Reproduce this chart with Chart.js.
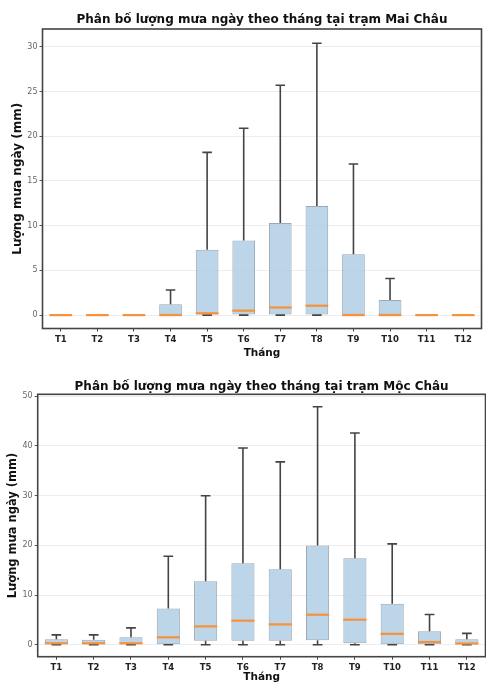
<!DOCTYPE html>
<html>
<head>
<meta charset="utf-8">
<script src="https://cdn.jsdelivr.net/npm/chart.js@4"></script>
<style>
  body { margin: 0; background: #fff; }
  .wrap { position: absolute; left: 0; width: 486px; }
  #w1 { top: 0; height: 362px; }
  #w2 { top: 362px; height: 322px; }
</style>
</head>
<body>
<div class="wrap" id="w1"><canvas id="maiChart"></canvas></div>
<div class="wrap" id="w2"><canvas id="mocChart"></canvas></div>
<script>
// months on the x axis
let months = ['T1', 'T2', 'T3', 'T4', 'T5', 'T6', 'T7', 'T8', 'T9', 'T10', 'T11', 'T12']

// Mai Chau box stats (mm)
let maiMin = [0, 0, 0, 0, 0, 0, 0, 0, 0, 0, 0, 0]
let maiQ1 = [0, 0, 0, 0, 0, 0, 0, 0, 0, 0, 0, 0]
let maiMed = [0, 0, 0, 0, 0.2, 0.5, 0.85, 1.05, 0, 0, 0, 0]
let maiQ3 = [0, 0, 0, 1.2, 7.3, 8.35, 10.3, 12.2, 6.8, 1.7, 0, 0]
let maiMax = [0, 0, 0, 2.8, 18.2, 20.9, 25.7, 30.4, 16.9, 4.1, 0, 0]
let maiTicks = [0, 5, 10, 15, 20, 25, 30]

// Moc Chau box stats (mm)
let mocMin = [0, 0, 0, 0, 0, 0, 0, 0, 0, 0, 0, 0]
let mocQ1 = [0, 0, 0, 0, 0.8, 0.8, 0.8, 0.9, 0.3, 0, 0.1, 0]
let mocMed = [0.3, 0.3, 0.3, 1.5, 3.7, 4.85, 4.1, 6.05, 5.05, 2.2, 0.55, 0.25]
let mocQ3 = [1.1, 1.0, 1.5, 7.3, 12.8, 16.4, 15.2, 20.0, 17.4, 8.25, 2.7, 1.1]
let mocMax = [2.0, 2.0, 3.4, 17.8, 30.0, 39.6, 36.8, 47.9, 42.6, 20.3, 6.1, 2.3]
let mocTicks = [0, 10, 20, 30, 40, 50]

Chart.defaults.font.family = '"DejaVu Sans", sans-serif'

// whiskers, caps, medians and the axes frame, drawn through the chart scales
const boxExtras = {
  id: 'boxExtras',
  afterDatasetsDraw(chart) {
    const ctx = chart.ctx
    const ds = chart.data.datasets[0]
    const meta = chart.getDatasetMeta(0)
    const y = chart.scales.y
    ctx.save()
    meta.data.forEach((bar, i) => {
      const x = bar.x
      const half = bar.width / 2
      const cap = bar.width * 0.21
      const yMin = y.getPixelForValue(ds.stats.min[i])
      const yQ1 = y.getPixelForValue(ds.stats.q1[i])
      const yQ3 = y.getPixelForValue(ds.stats.q3[i])
      const yMax = y.getPixelForValue(ds.stats.max[i])
      const yMed = y.getPixelForValue(ds.stats.med[i])
      ctx.strokeStyle = '#444'
      ctx.lineWidth = 1.6
      ctx.beginPath()
      ctx.moveTo(x, yQ3); ctx.lineTo(x, yMax)
      ctx.moveTo(x, yQ1); ctx.lineTo(x, yMin)
      ctx.moveTo(x - cap, yMax); ctx.lineTo(x + cap, yMax)
      ctx.moveTo(x - cap, yMin); ctx.lineTo(x + cap, yMin)
      ctx.stroke()
      ctx.strokeStyle = '#f7913a'
      ctx.lineWidth = 2.2
      ctx.beginPath()
      ctx.moveTo(x - half, yMed); ctx.lineTo(x + half, yMed)
      ctx.stroke()
    })
    const a = chart.chartArea
    ctx.strokeStyle = '#444'
    ctx.lineWidth = 1.6
    ctx.strokeRect(a.left, a.top, a.right - a.left, a.bottom - a.top)
    ctx.restore()
  }
}

function makeChart(id, cfg) {
  let ctx = document.getElementById(id).getContext('2d')
  return new Chart(ctx, {
    type: 'bar',
    data: {
      labels: months,
      datasets: [{
        data: months.map((m, i) => [cfg.q1[i], cfg.q3[i]]),
        stats: { min: cfg.min, q1: cfg.q1, med: cfg.med, q3: cfg.q3, max: cfg.max },
        backgroundColor: 'rgba(172, 203, 228, 0.8)',
        borderColor: '#9aa9b5',
        borderWidth: 1,
        borderSkipped: false,
        barPercentage: 0.62,
        categoryPercentage: 1
      }]
    },
    options: {
      responsive: true,
      maintainAspectRatio: false,
      animation: false,
      layout: { padding: { left: 0, right: cfg.padRight, top: 0, bottom: 0 } },
      plugins: {
        legend: { display: false },
        tooltip: { enabled: false },
        title: {
          display: true,
          text: cfg.title,
          fullSize: false,
          color: '#111',
          font: { size: 12, weight: 'bold' },
          padding: cfg.titlePad
        }
      },
      scales: {
        x: {
          offset: true,
          grid: { display: true, drawOnChartArea: false, offset: false, tickLength: 3, tickColor: '#444' },
          border: { display: false },
          ticks: { color: '#222', font: { size: 8.5, weight: 'bold' }, padding: 3, maxRotation: 0 },
          title: { display: true, text: 'Tháng', color: '#111', font: { size: 10.5, weight: 'bold' }, padding: { top: 0, bottom: cfg.xTitlePad } },
          afterFit: s => { s.height = cfg.xHeight }
        },
        y: {
          min: cfg.yMin,
          max: cfg.yMax,
          afterBuildTicks: s => { s.ticks = cfg.ticks.map(v => ({ value: v })) },
          grid: { color: 'rgba(0,0,0,0.07)', tickLength: 3, tickColor: '#555' },
          border: { display: false },
          ticks: { color: '#666', font: { size: 8 }, padding: 2 },
          title: { display: true, text: 'Lượng mưa ngày (mm)', color: '#111', font: { size: cfg.yTitleSize, weight: 'bold' }, padding: { top: cfg.yTitlePad, bottom: 0 } },
          afterFit: s => { s.width = cfg.yWidth }
        }
      }
    },
    plugins: [boxExtras]
  })
}

makeChart('maiChart', {
  title: 'Phân bố lượng mưa ngày theo tháng tại trạm Mai Châu',
  min: maiMin, q1: maiQ1, med: maiMed, q3: maiQ3, max: maiMax, ticks: maiTicks,
  yMin: -1.5, yMax: 32,
  titlePad: { top: 12.3, bottom: 2.3 },
  yWidth: 42.5, xHeight: 33.5, padRight: 4.5,
  xTitlePad: 2.5, yTitlePad: 10.8, yTitleSize: 12
})

makeChart('mocChart', {
  title: 'Phân bố lượng mưa ngày theo tháng tại trạm Mộc Châu',
  min: mocMin, q1: mocQ1, med: mocMed, q3: mocQ3, max: mocMax, ticks: mocTicks,
  yMin: -2.4, yMax: 50.4,
  titlePad: { top: 17.5, bottom: 0.4 },
  yWidth: 37.7, xHeight: 27.3, padRight: 0.5,
  xTitlePad: 0, yTitlePad: 6.1, yTitleSize: 11.5
})
</script>
</body>
</html>
